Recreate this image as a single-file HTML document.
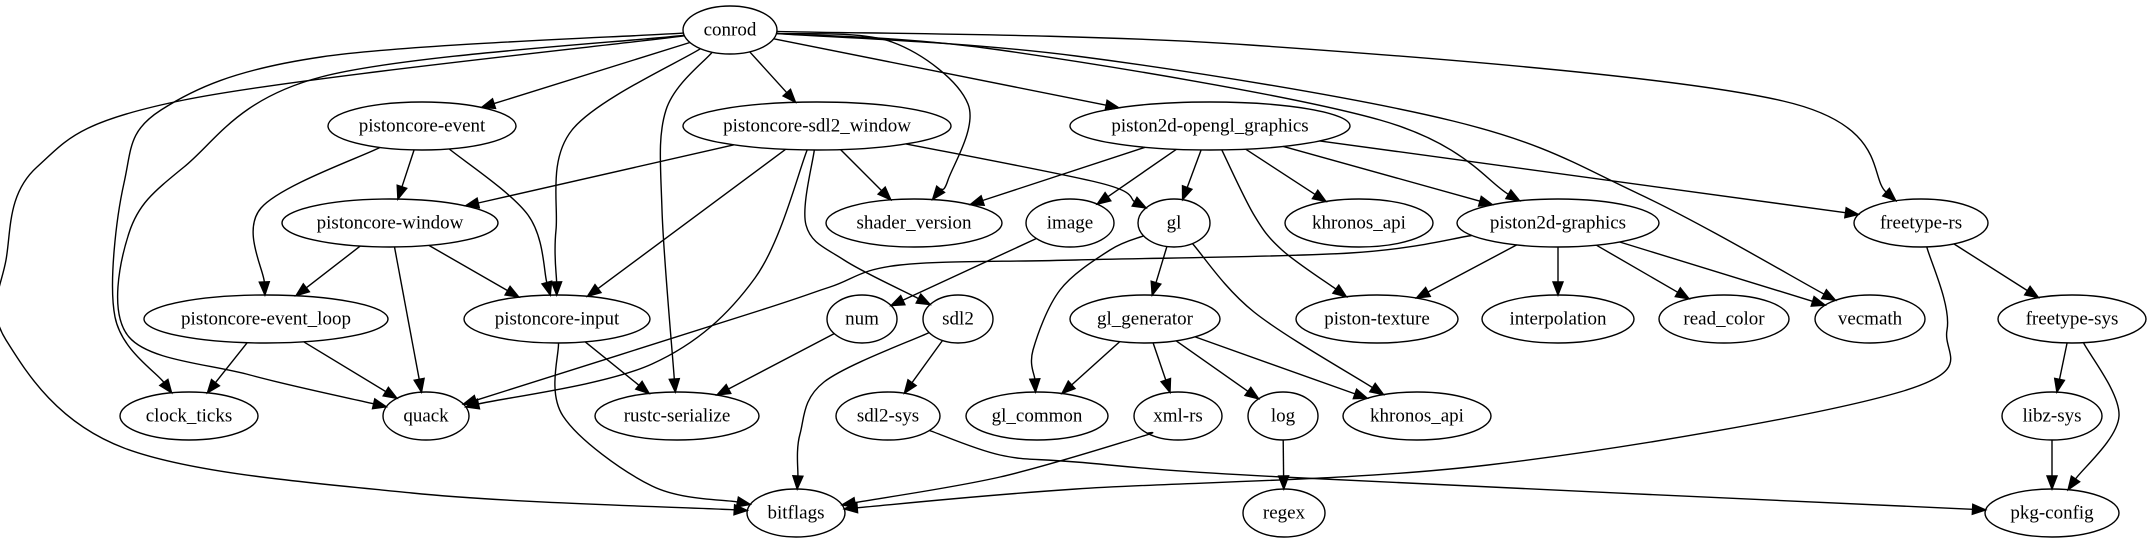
<!DOCTYPE html>
<html><head><meta charset="utf-8"><style>
html,body{margin:0;padding:0;background:#fff;}
svg{display:block;}
text{font-family:"Liberation Serif",serif;font-size:19px;text-anchor:middle;dominant-baseline:central;fill:#000;}
ellipse{fill:none;stroke:#000;stroke-width:1.4;}
path.e{fill:none;stroke:#000;stroke-width:1.4;}
</style></head><body>
<svg id="s" width="2153" height="539" viewBox="0 0 2153 539" xmlns="http://www.w3.org/2000/svg">
<g id="nodes">
<ellipse cx="730" cy="30" rx="47" ry="24"/><text x="730" y="30">conrod</text>
<ellipse cx="422" cy="126" rx="94" ry="24"/><text x="422" y="126">pistoncore-event</text>
<ellipse cx="817" cy="126" rx="134" ry="24"/><text x="817" y="126">pistoncore-sdl2_window</text>
<ellipse cx="1210" cy="126" rx="140" ry="24"/><text x="1210" y="126">piston2d-opengl_graphics</text>
<ellipse cx="390" cy="223" rx="108" ry="24"/><text x="390" y="223">pistoncore-window</text>
<ellipse cx="914" cy="223" rx="88" ry="24"/><text x="914" y="223">shader_version</text>
<ellipse cx="1070" cy="223" rx="44" ry="24"/><text x="1070" y="223">image</text>
<ellipse cx="1174" cy="223" rx="36" ry="24"/><text x="1174" y="223">gl</text>
<ellipse cx="1359" cy="223" rx="74" ry="24"/><text x="1359" y="223">khronos_api</text>
<ellipse cx="1558" cy="223" rx="101" ry="24"/><text x="1558" y="223">piston2d-graphics</text>
<ellipse cx="1921" cy="223" rx="67" ry="24"/><text x="1921" y="223">freetype-rs</text>
<ellipse cx="266" cy="319" rx="122" ry="24"/><text x="266" y="319">pistoncore-event_loop</text>
<ellipse cx="557" cy="319" rx="93" ry="24"/><text x="557" y="319">pistoncore-input</text>
<ellipse cx="862" cy="319" rx="35" ry="24"/><text x="862" y="319">num</text>
<ellipse cx="958" cy="319" rx="35" ry="24"/><text x="958" y="319">sdl2</text>
<ellipse cx="1145" cy="319" rx="75" ry="24"/><text x="1145" y="319">gl_generator</text>
<ellipse cx="1377" cy="319" rx="81" ry="24"/><text x="1377" y="319">piston-texture</text>
<ellipse cx="1558" cy="319" rx="76" ry="24"/><text x="1558" y="319">interpolation</text>
<ellipse cx="1724" cy="319" rx="65" ry="24"/><text x="1724" y="319">read_color</text>
<ellipse cx="1870" cy="319" rx="55" ry="24"/><text x="1870" y="319">vecmath</text>
<ellipse cx="2072" cy="319" rx="74" ry="24"/><text x="2072" y="319">freetype-sys</text>
<ellipse cx="189" cy="416" rx="69" ry="24"/><text x="189" y="416">clock_ticks</text>
<ellipse cx="426" cy="416" rx="43" ry="24"/><text x="426" y="416">quack</text>
<ellipse cx="677" cy="416" rx="82" ry="24"/><text x="677" y="416">rustc-serialize</text>
<ellipse cx="888" cy="416" rx="52" ry="24"/><text x="888" y="416">sdl2-sys</text>
<ellipse cx="1037" cy="416" rx="71" ry="24"/><text x="1037" y="416">gl_common</text>
<ellipse cx="1178" cy="416" rx="44" ry="24"/><text x="1178" y="416">xml-rs</text>
<ellipse cx="1283" cy="416" rx="35" ry="24"/><text x="1283" y="416">log</text>
<ellipse cx="1417" cy="416" rx="74" ry="24"/><text x="1417" y="416">khronos_api</text>
<ellipse cx="2052" cy="416" rx="50" ry="24"/><text x="2052" y="416">libz-sys</text>
<ellipse cx="796" cy="513" rx="49" ry="24"/><text x="796" y="513">bitflags</text>
<ellipse cx="1284" cy="513" rx="41" ry="24"/><text x="1284" y="513">regex</text>
<ellipse cx="2052" cy="513" rx="67" ry="24"/><text x="2052" y="513">pkg-config</text>
</g>
<g id="edges"></g>
</svg>
<script>
var N={conrod:[730,30,47],pe:[422,126,94],sw:[817,126,134],og:[1210,126,140],pw:[390,223,108],sv:[914,223,88],img:[1070,223,44],gl:[1174,223,36],ka:[1359,223,74],pg:[1558,223,101],fr:[1921,223,67],el:[266,319,122],pi:[557,319,93],num:[862,319,35],sdl2:[958,319,35],gg:[1145,319,75],pt:[1377,319,81],ip:[1558,319,76],rc:[1724,319,65],vm:[1870,319,55],fs:[2072,319,74],ct:[189,416,69],q:[426,416,43],rs:[677,416,82],ss:[888,416,52],gc:[1037,416,71],xr:[1178,416,44],log:[1283,416,35],ka2:[1417,416,74],lz:[2052,416,50],bf:[796,513,49],rg:[1284,513,41],pc:[2052,513,67]};
var E=[
['conrod','pe'],['conrod','sw'],['conrod','og'],
['conrod','sv',[[892,42],[968,104],[948,180]]],
['conrod','pi',[[572,130],[556,230]]],
['conrod','rs',[[666,110],[662,210]]],
['conrod','q',[[321,77],[184,167],[129,233],[129,337],[250,375]]],
['conrod','ct',[[321,57],[161,110],[124,183],[115,317]]],
['conrod','bf',[[184,100],[37,167],[6,260],[6,340],[124,448],[412,493]]],
['conrod','pg',[[1000,50],[1380,120]]],
['conrod','vm',[[1076,56],[1453,121],[1639,194]]],
['conrod','fr',[[1250,45],[1783,101]]],
['pe','pw'],['pe','pi',[[528,215]]],['pe','el',[[261,208]]],
['sw','pw'],['sw','sv'],['sw','gl',[[1100,183]]],['sw','pi'],
['sw','q',[[755,278],[652,364]]],
['sw','sdl2',[[806,225],[844,260]]],
['pw','el'],['pw','q'],['pw','pi'],
['el','ct'],['el','q'],
['pi','rs'],['pi','bf',[[563,416],[652,486]]],
['og','sv'],['og','img'],['og','gl'],['og','ka'],['og','pg'],
['og','pt',[[1254,215],[1282,250]]],['og','fr'],
['img','num'],
['gl','gg'],['gl','gc',[[1110,250],[1060,290],[1033,350]]],['gl','ka2',[[1254,312]]],
['pg','q',[[1350,253],[1076,260],[900,265],[830,287],[755,312]]],
['pg','pt'],['pg','ip'],['pg','rc'],['pg','vm'],
['num','rs'],['sdl2','ss'],['sdl2','bf',[[824,382],[800,434]]],
['gg','gc'],['gg','xr'],['gg','log'],['gg','ka2'],
['xr','bf',[[1140,437],[1000,477]]],['log','rg'],
['ss','pc',[[1000,455],[1076,462],[1282,477]]],
['fr','fs'],['fr','bf',[[1947,330],[1900,392],[1488,465],[1076,489]]],
['fs','lz'],['fs','pc',[[2119,416]]],['lz','pc']
];
function bnd(n,p){var cx=n[0],cy=n[1],rx=n[2],ry=24;var dx=p[0]-cx,dy=p[1]-cy;var t=1/Math.sqrt(dx*dx/(rx*rx)+dy*dy/(ry*ry));return [cx+dx*t,cy+dy*t];}
var g=document.getElementById('edges'),out='';
E.forEach(function(e){var a=N[e[0]],b=N[e[1]],w=e[2]||[];
var f=w.length?w[0]:[b[0],b[1]],l=w.length?w[w.length-1]:[a[0],a[1]];
var s=bnd(a,f),t=bnd(b,l);
var pts=[s].concat(w);
var dx=t[0]-l[0],dy=t[1]-l[1],L=Math.sqrt(dx*dx+dy*dy);var ux=dx/L,uy=dy/L;var AL=13,AW=5;
var bx=t[0]-ux*AL,by=t[1]-uy*AL;pts.push([bx,by]);
var d='M'+pts[0][0].toFixed(1)+','+pts[0][1].toFixed(1);
if(pts.length==2){d+=' L'+bx.toFixed(1)+','+by.toFixed(1);}else{
var P=[pts[0]].concat(pts,[pts[pts.length-1]]);
for(var i=1;i<P.length-2;i++){var p0=P[i-1],p1=P[i],p2=P[i+1],p3=P[i+2];
var c1=[p1[0]+(p2[0]-p0[0])/6,p1[1]+(p2[1]-p0[1])/6],c2=[p2[0]-(p3[0]-p1[0])/6,p2[1]-(p3[1]-p1[1])/6];
d+=' C'+c1[0].toFixed(1)+','+c1[1].toFixed(1)+' '+c2[0].toFixed(1)+','+c2[1].toFixed(1)+' '+p2[0].toFixed(1)+','+p2[1].toFixed(1);}}
out+='<path class="e" d="'+d+'"/>';
out+='<polygon points="'+t[0].toFixed(1)+','+t[1].toFixed(1)+' '+(bx-uy*AW).toFixed(1)+','+(by+ux*AW).toFixed(1)+' '+(bx+uy*AW).toFixed(1)+','+(by-ux*AW).toFixed(1)+'" fill="#000" stroke="#000" stroke-width="1.4"/>';
});
g.innerHTML=out;
</script>
</body></html>
